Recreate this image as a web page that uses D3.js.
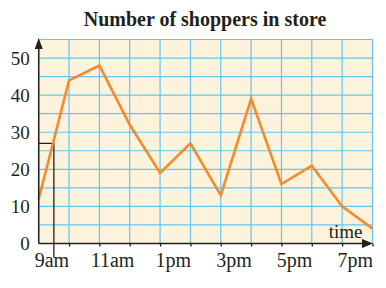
<!DOCTYPE html>
<html>
<head>
<meta charset="utf-8">
<script src="https://cdn.jsdelivr.net/npm/d3@7"></script>
<style>
  body { margin: 0; background: #fff; }
  text { font-family: "Liberation Serif", "Times New Roman", serif; fill: #231f20; }
</style>
</head>
<body>
<div class="chart"></div>
<script>
// hours of the day (8.5 = 8:30am ... 19.5 = 7:30pm)
const hours = [8.5, 9.5, 10.5, 11.5, 12.5, 13.5, 14.5, 15.5, 16.5, 17.5, 18.5, 19.5];
const shoppers = [12, 44, 48, 32, 19, 27, 13, 39, 16, 21, 10, 4];
const tickHours = [9, 11, 13, 15, 17, 19];
const tickLabels = ["9am", "11am", "1pm", "3pm", "5pm", "7pm"];
const yTicks = [0, 10, 20, 30, 40, 50];
const readHour = 9;
const readValue = 27;

const svgWidth = 386;
const svgHeight = 288;

const margin = { top: 39.5, bottom: 44.5, right: 13.5, left: 38.7 };
const width = svgWidth - margin.left - margin.right;
const height = svgHeight - margin.top - margin.bottom;

const svg = d3.select(".chart")
  .append("svg")
  .attr("width", svgWidth)
  .attr("height", svgHeight);

// title
svg.append("text")
  .attr("x", 205)
  .attr("y", 26)
  .attr("text-anchor", "middle")
  .attr("font-size", 20)
  .attr("font-weight", "bold")
  .text("Number of shoppers in store");

const chartGroup = svg.append("g")
  .attr("transform", `translate(${margin.left}, ${margin.top})`);

// scales
const xScale = d3.scaleLinear()
  .domain([8.5, 19.5])
  .range([0, width]);

const yScale = d3.scaleLinear()
  .domain([0, 55])
  .range([height, 0]);

// background
chartGroup.append("rect")
  .attr("width", width)
  .attr("height", height)
  .attr("fill", "#fdf3dc");

// grid lines
chartGroup.append("g")
  .selectAll("line")
  .data(d3.range(0, 56, 5))
  .enter()
  .append("line")
  .attr("x1", 0)
  .attr("x2", width)
  .attr("y1", d => yScale(d))
  .attr("y2", d => yScale(d))
  .attr("stroke", "#62c6ee")
  .attr("stroke-width", 1.2);

chartGroup.append("g")
  .selectAll("line")
  .data(hours)
  .enter()
  .append("line")
  .attr("x1", d => xScale(d))
  .attr("x2", d => xScale(d))
  .attr("y1", 0)
  .attr("y2", height)
  .attr("stroke", "#62c6ee")
  .attr("stroke-width", 1.2);

// reading lines for 9am
chartGroup.append("path")
  .attr("d", `M${xScale(8.5)},${yScale(readValue)}H${xScale(readHour)}V${height + 14}`)
  .attr("fill", "none")
  .attr("stroke", "#231f20")
  .attr("stroke-width", 1.3);

// data line
const line = d3.line()
  .x((d, i) => xScale(hours[i]))
  .y(d => yScale(d));

chartGroup.append("path")
  .data([shoppers])
  .attr("d", line)
  .attr("fill", "none")
  .attr("stroke", "#f6892c")
  .attr("stroke-width", 2.6)
  .attr("stroke-linejoin", "miter");

// x axis with small ticks at each hour line
const xAxis = d3.axisBottom(xScale)
  .tickValues(hours.slice(1))
  .tickSize(3)
  .tickFormat("");

const xAxisG = chartGroup.append("g")
  .attr("transform", `translate(0, ${height})`)
  .call(xAxis);
xAxisG.select(".domain").remove();
xAxisG.selectAll(".tick line").attr("stroke", "#231f20").attr("stroke-width", 1.3);

chartGroup.append("line")
  .attr("x1", 0)
  .attr("x2", width - 8)
  .attr("y1", height)
  .attr("y2", height)
  .attr("stroke", "#231f20")
  .attr("stroke-width", 1.5);

chartGroup.append("path")
  .attr("d", `M${width + 0.5},${height}l-11,-4.5v9z`)
  .attr("fill", "#231f20");

// y axis
chartGroup.append("line")
  .attr("x1", 0)
  .attr("x2", 0)
  .attr("y1", height)
  .attr("y2", 8)
  .attr("stroke", "#231f20")
  .attr("stroke-width", 1.5);

chartGroup.append("path")
  .attr("d", `M0,-1.5l-4,11h8z`)
  .attr("fill", "#231f20");

// tick labels
chartGroup.append("g")
  .selectAll("text")
  .data(tickHours)
  .enter()
  .append("text")
  .attr("x", d => xScale(d) - 2)
  .attr("y", height + 23)
  .attr("text-anchor", "middle")
  .attr("font-size", 20)
  .text((d, i) => tickLabels[i]);

chartGroup.append("g")
  .selectAll("text")
  .data(yTicks)
  .enter()
  .append("text")
  .attr("x", -9)
  .attr("y", d => yScale(d))
  .attr("dy", "0.34em")
  .attr("text-anchor", "end")
  .attr("font-size", 19)
  .text(d => d);

// axis title
chartGroup.append("text")
  .attr("x", width - 10)
  .attr("y", height - 6)
  .attr("text-anchor", "end")
  .attr("font-size", 19)
  .text("time");
</script>
</body>
</html>
